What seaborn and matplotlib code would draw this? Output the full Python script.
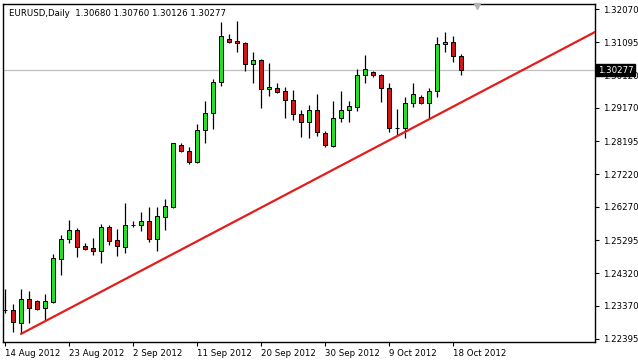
import numpy as np
import pandas as pd
import matplotlib
matplotlib.use("Agg")
import matplotlib.pyplot as plt
import matplotlib.transforms as mtransforms
import seaborn as sns

# EURUSD daily candles, 14 Aug 2012 -> 19 Oct 2012 (broker shows Sunday bars, 6 per week)
opens = [1.23250, 1.23246, 1.22873, 1.23559, 1.23501, 1.23295, 1.23489, 1.24741, 1.25318, 1.25582,
         1.25113, 1.25054, 1.24984, 1.25670, 1.25289, 1.25084, 1.25729, 1.25729, 1.25846, 1.25318,
         1.25981, 1.26274, 1.28083, 1.27916, 1.27593, 1.28523, 1.29012, 1.29921, 1.31182, 1.31123,
         1.31064, 1.30449, 1.30566, 1.29716, 1.29745, 1.29666, 1.29393, 1.28983, 1.28766, 1.29109,
         1.28449, 1.28062, 1.28866, 1.29109, 1.29206, 1.30126, 1.30223, 1.30126, 1.29745, 1.28590,
         1.28590, 1.29305, 1.29499, 1.29305, 1.29666, 1.31035, 1.31094, 1.30680]
highs = [1.23861, 1.23421, 1.23852, 1.23811, 1.23539, 1.23715, 1.24887, 1.25444, 1.25884, 1.25641,
         1.25219, 1.25348, 1.25767, 1.25738, 1.25611, 1.26391, 1.25864, 1.26119, 1.26274, 1.26274,
         1.26500, 1.28150, 1.28127, 1.28033, 1.28713, 1.29382, 1.30009, 1.31689, 1.31337, 1.31709,
         1.31111, 1.30818, 1.30604, 1.30478, 1.29892, 1.29774, 1.29695, 1.29109, 1.29256, 1.29569,
         1.28493, 1.29373, 1.29675, 1.29382, 1.30302, 1.30730, 1.30261, 1.30164, 1.29892, 1.29130,
         1.29499, 1.29892, 1.29549, 1.29763, 1.31240, 1.31387, 1.31278, 1.30760]
lows = [1.23170, 1.22609, 1.22562, 1.22873, 1.23246, 1.22952, 1.23442, 1.24272, 1.25219, 1.24790,
        1.25005, 1.24858, 1.24632, 1.25151, 1.24829, 1.24908, 1.25670, 1.25570, 1.25248, 1.24984,
        1.25591, 1.26236, 1.27886, 1.27526, 1.27546, 1.28133, 1.28543, 1.29813, 1.31064, 1.30818,
        1.30261, 1.29909, 1.29176, 1.29528, 1.29616, 1.28883, 1.28816, 1.28326, 1.28279, 1.28361,
        1.28033, 1.28033, 1.28766, 1.28766, 1.29088, 1.29909, 1.30085, 1.29352, 1.28473, 1.28376,
        1.28279, 1.29206, 1.29285, 1.28866, 1.29499, 1.30818, 1.30525, 1.30126]
closes = [1.23246, 1.22903, 1.23559, 1.23295, 1.23284, 1.23501, 1.24761, 1.25318, 1.25582, 1.25101,
          1.25034, 1.24984, 1.25670, 1.25277, 1.25122, 1.25729, 1.25725, 1.25846, 1.25318, 1.26001,
          1.26286, 1.28133, 1.27916, 1.27593, 1.28523, 1.29012, 1.29921, 1.31278, 1.31111, 1.31064,
          1.30449, 1.30566, 1.29716, 1.29792, 1.29645, 1.29393, 1.28983, 1.28766, 1.29109, 1.28473,
          1.28074, 1.28874, 1.29109, 1.29226, 1.30126, 1.30302, 1.30126, 1.29745, 1.28573, 1.28584,
          1.29305, 1.29569, 1.29305, 1.29666, 1.31035, 1.31094, 1.30680, 1.30277]

date_ticks = [0, 8, 16, 24, 32, 40, 48, 56]
date_labels = ['14 Aug 2012', '23 Aug 2012', '2 Sep 2012', '11 Sep 2012',
               '20 Sep 2012', '30 Sep 2012', '9 Oct 2012', '18 Oct 2012']
price_ticks = [1.22395, 1.23370, 1.24320, 1.25295, 1.26270, 1.27220,
               1.28195, 1.29170, 1.30120, 1.31095, 1.32070]

# hand drawn support line (ray to the right)
trend_bars = [2, 73.75]
trend_prices = [1.22545, 1.31396]

df = pd.DataFrame({'open': opens, 'high': highs, 'low': lows, 'close': closes})
df['bar'] = np.arange(len(df))
df['up'] = df['close'] >= df['open']

sns.set_style("white")
plt.rcParams['font.family'] = ['DejaVu Sans']

fig = plt.figure(figsize=(6.38, 3.62), dpi=100)
ax = fig.add_axes([3 / 638, 20 / 362, 592 / 638, 338 / 362])

# current price line
ax.axhline(df['close'].iloc[-1], color='#c0c0c0', lw=0.9, zorder=1)

# wicks + bodies
ax.vlines(df['bar'], df['low'], df['high'], color='black', lw=0.9, zorder=2)
body_colors = np.where(df['up'], '#22e022', '#d41515')
ax.bar(df['bar'], df['close'] - df['open'], bottom=df['open'], width=0.62,
       color=body_colors, edgecolor='black', linewidth=0.7, zorder=3)

# trend line
sns.lineplot(x=trend_bars, y=trend_prices, color='#e31c1c', lw=1.6, ax=ax, zorder=4)

ax.set_xlim(-0.25, 73.75)
ax.set_ylim(1.22307, 1.32217)

ax.yaxis.tick_right()
ax.set_yticks(price_ticks)
ax.set_yticklabels([f'{p:.5f}' for p in price_ticks])
ax.set_xticks(date_ticks)
ax.set_xticklabels(date_labels, ha='left')
ax.tick_params(axis='both', direction='out', length=3, width=0.8, colors='black',
               labelsize=6.2, bottom=True, right=True, left=False)
ax.tick_params(axis='y', pad=2.5)
ax.tick_params(axis='x', pad=2)
ax.set_xlabel('')
ax.set_ylabel('')
for s in ax.spines.values():
    s.set_color('black')
    s.set_linewidth(1)

# last price box on the right scale
blend = mtransforms.blended_transform_factory(ax.transAxes, ax.transData)
last = df['close'].iloc[-1]
ax.text(1.005, last, f'{last:.5f}', transform=blend, ha='left', va='center',
        color='white', fontsize=6.2, zorder=10, clip_on=False,
        bbox=dict(boxstyle='square,pad=0.2', fc='black', ec='black'))

# chart shift marker
blend2 = mtransforms.blended_transform_factory(ax.transData, ax.transAxes)
ax.plot([59], [0.993], marker='v', ms=5, color='#b4b4b4', transform=blend2,
        clip_on=False, zorder=5)

fig.text(9 / 638, 1 - 13 / 362, 'EURUSD,Daily  1.30680 1.30760 1.30126 1.30277',
         fontsize=6.2, ha='left', va='center', color='black')

fig.savefig('out.png', dpi=100)
